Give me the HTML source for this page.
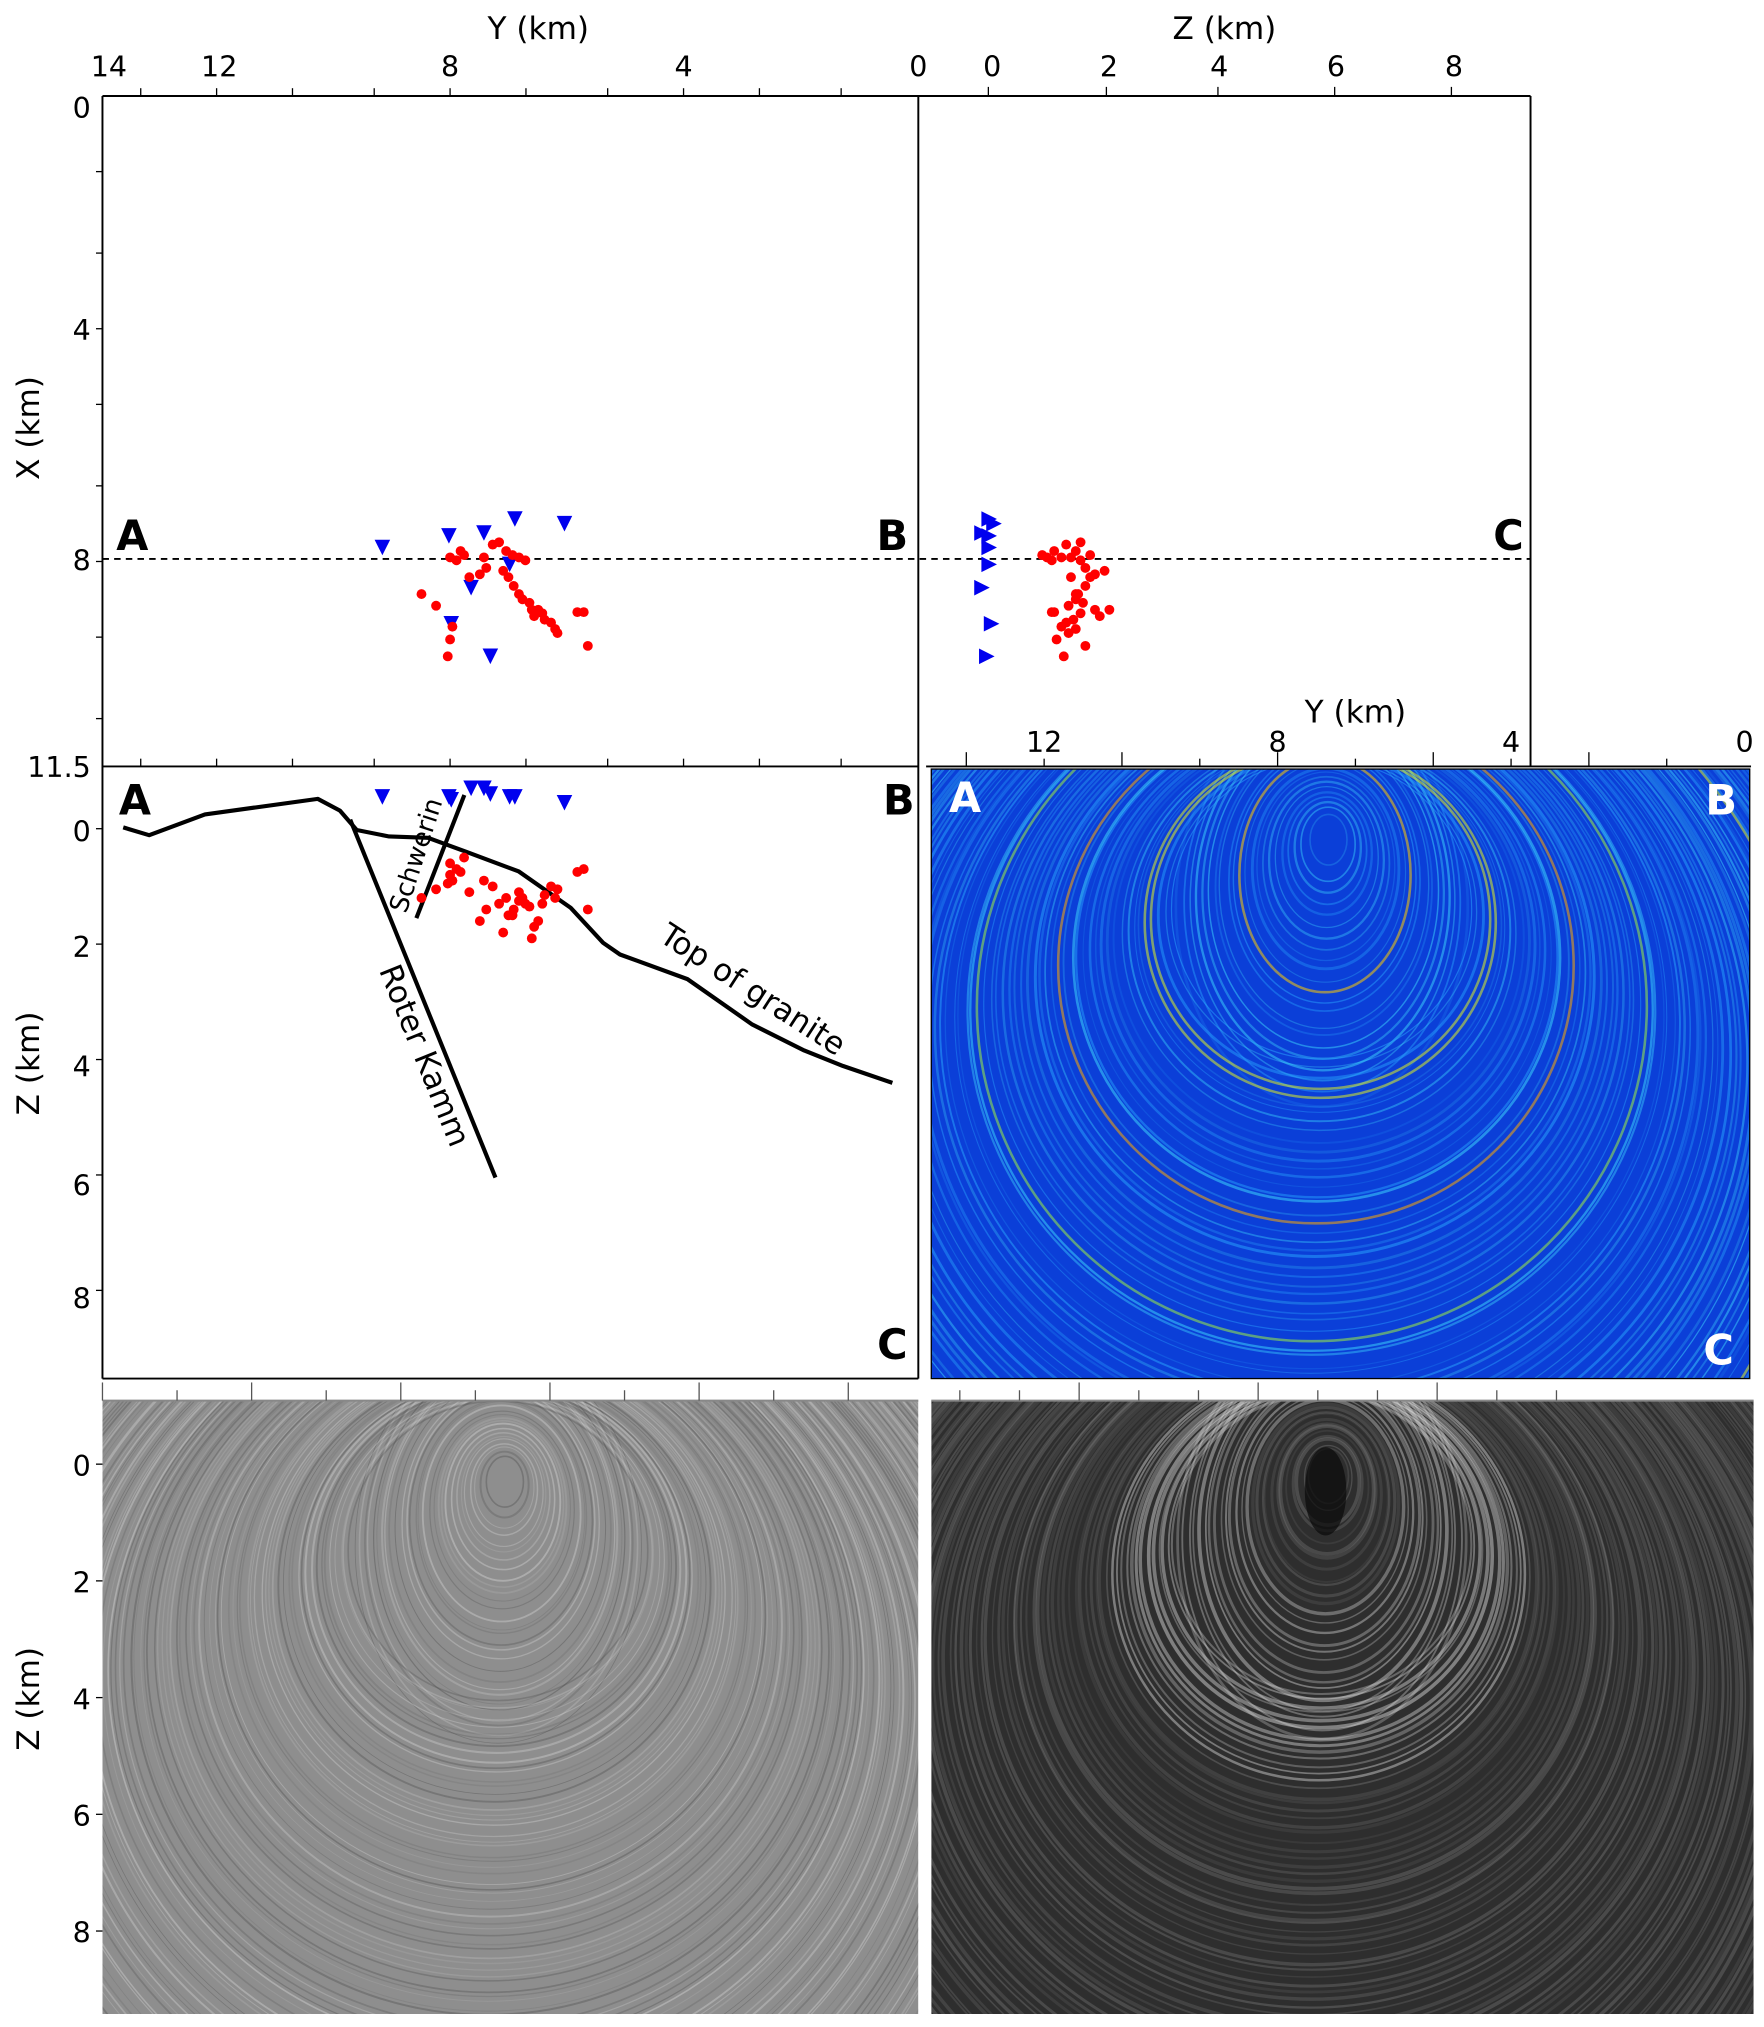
<!DOCTYPE html>
<html><head><meta charset="utf-8"><style>
html,body{margin:0;padding:0;background:#fff;width:1764px;height:2027px;overflow:hidden}
svg{display:block;overflow:hidden}
text{font-family:"DejaVu Sans","Liberation Sans",sans-serif}
</style></head><body>
<svg id="fig" xmlns="http://www.w3.org/2000/svg" width="1764" height="2027" viewBox="0 0 1360 1563" preserveAspectRatio="none">
<defs>
<clipPath id="cMap"><rect x="79" y="74" width="628" height="517"/></clipPath>
<clipPath id="cCol"><rect x="718" y="593" width="631" height="470"/></clipPath>
<clipPath id="cGL"><rect x="79" y="1080" width="629" height="473"/></clipPath>
<clipPath id="cGR"><rect x="718" y="1080" width="634" height="473"/></clipPath>
</defs>
<g id="texture-col" clip-path="url(#cCol)"><rect x="718" y="593" width="631" height="470" fill="#0b3fd8"/></g>
<g id="texture-gl" clip-path="url(#cGL)"><rect x="79" y="1080" width="629" height="473" fill="#8e8e8e"/></g>
<g id="texture-gr" clip-path="url(#cGR)"><rect x="718" y="1080" width="634" height="473" fill="#2e2e2e"/></g>
<g id="axes" stroke="#000" fill="none" stroke-width="1.5">
<line x1="79" y1="74" x2="1180" y2="74"/>
<line x1="79" y1="74" x2="79" y2="1063"/>
<line x1="708" y1="74" x2="708" y2="1063"/>
<line x1="1180" y1="74" x2="1180" y2="591"/>
<line x1="79" y1="591" x2="708" y2="591"/>
<line x1="714" y1="591" x2="1350" y2="591"/>
<line x1="79" y1="1063" x2="708" y2="1063"/>
<rect x="718" y="593" width="631" height="470" stroke-width="1"/>
<line x1="79" y1="1080" x2="708" y2="1080" stroke="#888"/>
<line x1="718" y1="1080" x2="1352" y2="1080" stroke="#888"/>
<line x1="79" y1="431" x2="1180" y2="431" stroke-dasharray="5,4" stroke-width="1.4"/>
</g>
<g id="ticks" stroke="#000" stroke-width="1"></g>
<g font-size="22" fill="#000" text-anchor="middle">
<text x="84" y="59">14</text><text x="169" y="59">12</text><text x="347" y="59">8</text><text x="527" y="59">4</text><text x="708" y="59">0</text>
<text x="765" y="59">0</text><text x="855" y="59">2</text><text x="940" y="59">4</text><text x="1030" y="59">6</text><text x="1121" y="59">8</text>
<text x="805" y="580">12</text><text x="985" y="580">8</text><text x="1165" y="580">4</text><text x="1345" y="580">0</text>
<g text-anchor="end">
<text x="70" y="91">0</text><text x="70" y="262">4</text><text x="70" y="440">8</text><text x="70" y="599">11.5</text>
<text x="70" y="649">0</text><text x="70" y="738">2</text><text x="70" y="830">4</text><text x="70" y="922">6</text><text x="70" y="1009">8</text>
<text x="70" y="1138">0</text><text x="70" y="1228">2</text><text x="70" y="1318">4</text><text x="70" y="1408">6</text><text x="70" y="1498">8</text>
</g>
</g>
<g font-size="24" fill="#000" text-anchor="middle">
<text x="415" y="30">Y (km)</text>
<text x="944" y="30">Z (km)</text>
<text x="1045" y="557">Y (km)</text>
<text transform="translate(30,330) rotate(-90)">X (km)</text>
<text transform="translate(30,820) rotate(-90)">Z (km)</text>
<text transform="translate(30,1310) rotate(-90)">Z (km)</text>
</g>
<g font-size="32" font-weight="bold" text-anchor="middle">
<text x="102" y="424">A</text>
<text x="688" y="424">B</text>
<text x="1163" y="424">C</text>
<text x="104" y="628">A</text>
<text x="693" y="628">B</text>
<text x="688" y="1048">C</text>
<g fill="#fff"><text x="744" y="626">A</text>
<text x="1327" y="628">B</text>
<text x="1325" y="1052">C</text></g>
</g>
<g id="section-lines" fill="none" stroke="#000" stroke-width="3.2" stroke-linejoin="round">
<polyline points="95,638 115,644 158,628 245,616 262,625 275,640 300,645 330,646 360,657 400,672 440,700 465,727 478,736 530,755 580,790 620,810 650,822 688,835"/>
<line x1="270" y1="632" x2="382" y2="908"/>
<line x1="358" y1="613" x2="321" y2="708"/>
</g>
<g font-size="24" fill="#000">
<text transform="translate(292,748) rotate(68)">Roter Kamm</text>
<text transform="translate(313,705) rotate(-72)" font-size="20">Schwerin</text>
<text transform="translate(507,725) rotate(33)">Top of granite</text>
</g>
<g id="marks"></g>
</svg>
<script>
// Event locations (km): Y horizontal, X north, Z depth
const evY=[8.0,7.89,7.76,7.82,7.42,7.27,7.16,7.04,6.93,6.82,6.71,7.38,7.49,7.67,7.09,7.0,6.91,6.82,6.76,6.64,6.6,6.49,6.42,6.38,6.27,6.2,6.16,6.56,5.82,5.71,5.64,8.49,8.24,7.96,8.0,8.04];
const evX=[7.93,7.98,7.89,7.82,7.93,7.71,7.67,7.82,7.89,7.93,7.98,8.11,8.22,8.27,8.16,8.27,8.42,8.56,8.65,8.71,8.83,8.83,8.89,9.0,9.05,9.16,9.23,8.94,8.87,8.87,9.45,8.56,8.76,9.12,9.34,9.63];
const evZ=[0.6,0.7,0.5,0.75,0.9,1.0,1.3,1.2,1.5,1.1,1.3,1.4,1.6,1.1,1.8,1.5,1.4,1.25,1.2,1.35,1.9,1.6,1.3,1.15,1.0,1.2,1.05,1.7,0.75,0.7,1.4,1.2,1.05,0.9,0.8,0.95];
// Station locations (km)
const stY=[9.16,8.02,7.42,6.89,6.04,7.64,7.98,7.31,6.98];
const stX=[7.76,7.56,7.51,7.27,7.35,8.45,9.07,9.63,8.05];
const stZ=[-0.55,-0.55,-0.7,-0.55,-0.45,-0.7,-0.5,-0.6,-0.55];
// tick values
const yTicks=[13.3,12,10.7,9.3,8,6.7,5.3,4,2.7,1.3];
const xTicks=[1.3,2.7,4,5.3,6.7,8,9.3,10.7];
const zTicks=[0,2,4,6,8];

const ySc=y=>707-45*y;
const xSc=x=>74+44.87*x;
const zSecSc=z=>639+44.5*z;
const zTopSc=z=>785+37*z;
const NS='http://www.w3.org/2000/svg';
const marks=document.getElementById('marks');
function mk(tag,attrs,parent){const e=document.createElementNS(NS,tag);for(const k in attrs)e.setAttribute(k,attrs[k]);(parent||marks).appendChild(e);return e;}
function tri(cx,cy,dir){const s=6;return dir==='down'?`${cx-s},${cy-s} ${cx+s},${cy-s} ${cx},${cy+s}`:`${cx-s},${cy-s} ${cx+s},${cy} ${cx-s},${cy+s}`;}
for(let i=0;i<stY.length;i++){
  let t=mk('polygon',{points:tri(ySc(stY[i]),xSc(stX[i]),'down'),fill:'#0000ee'});
  
  
  t=mk('polygon',{points:tri(ySc(stY[i]),zSecSc(stZ[i]),'down'),fill:'#0000ee'});
  
  
  t=mk('polygon',{points:tri(zTopSc(stZ[i])-2,xSc(stX[i]),'right'),fill:'#0000ee'});
  
  
}
for(let i=0;i<evY.length;i++){
  let c=mk('circle',{cx:ySc(evY[i]),cy:xSc(evX[i]),r:3.8,fill:'#f00'});
  
  
  c=mk('circle',{cx:ySc(evY[i]),cy:zSecSc(evZ[i]),r:3.8,fill:'#f00'});
  
  
  c=mk('circle',{cx:zTopSc(evZ[i]),cy:xSc(evX[i]),r:3.8,fill:'#f00'});
  
  
}
const tk=document.getElementById('ticks');
yTicks.forEach(v=>{const x=ySc(v);mk('line',{x1:x,y1:74,x2:x,y2:68},tk);mk('line',{x1:x,y1:591,x2:x,y2:585},tk);});
xTicks.forEach(v=>{const y=xSc(v);mk('line',{x1:79,y1:y,x2:74,y2:y},tk);});
[0,2,4,6,8].forEach(v=>{const x=762+[0,91,177,267,357][v/2];mk('line',{x1:x,y1:74,x2:x,y2:67},tk);});
zTicks.forEach(v=>{mk('line',{x1:79,y1:zSecSc(v),x2:74,y2:zSecSc(v)},tk);mk('line',{x1:79,y1:1129+v*45,x2:74,y2:1129+v*45},tk);});
for(let i=0;i<11;i++){const x=79+i*57.5;mk('line',{x1:x,y1:1080,x2:x,y2:i%2?1072:1066,stroke:'#555'},tk);}
for(let i=0;i<11;i++){const x=740+i*46;mk('line',{x1:x,y1:1080,x2:x,y2:i%3==2?1066:1072,stroke:'#555'},tk);}
for(let i=0;i<10;i++){const x=745+i*60;mk('line',{x1:x,y1:591,x2:x,y2:i%2?585:580},tk);}
// decorative textures
let seed=7;const rnd=()=>{seed=(seed*16807)%2147483647;return seed/2147483647;};
function rings(gid,cx0,cy0,n,strokeFn){
  const g=document.getElementById(gid);
  for(let i=0;i<n;i++){
    const r=15+i*(720/n)+rnd()*3;
    const cx=cx0-0.05*r, cy=cy0+0.5*r;
    const s=strokeFn(r,i);
    mk('ellipse',{cx:cx,cy:cy,rx:r*0.95,ry:r*(r<120?1.3:0.95),fill:'none',stroke:s[0],'stroke-width':s[1],'stroke-opacity':s[2]},g);
  }
}
rings('texture-col',1025,640,150,(r)=>{
  const hot=[[70,'#ffcc00'],[140,'#e0f020'],[210,'#ffaa00'],[270,'#a0f040'],[340,'#ff7700'],[420,'#e0f020'],[520,'#ffcc00']];
  for(const h of hot) if(Math.abs(r-h[0])<3) return [h[1],2,0.55];
  return [rnd()<0.5?'#2aa8ff':'#40e0ff',0.8+rnd()*1.5,0.15+rnd()*0.35];
});
rings('texture-gl',390,1135,200,()=>[rnd()<0.5?'#e0e0e0':'#4a4a4a',0.6+rnd()*1.0,0.12+rnd()*0.25]);
rings('texture-gr',1025,1130,180,(r)=>[r>60&&r<170?'#e8e8e8':'#9a9a9a',1+rnd()*2,(r>60&&r<170?0.25:0.1)+rnd()*0.2]);
mk('ellipse',{cx:1022,cy:1150,rx:16,ry:34,fill:'#0a0a0a','fill-opacity':0.7},document.getElementById('texture-gr'));
</script>
</body></html>
